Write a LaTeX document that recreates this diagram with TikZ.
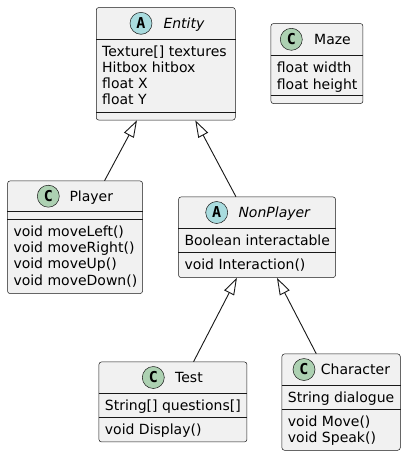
\documentclass[tikz,border=0pt]{standalone}
\usepackage{fontspec}
\setmainfont{DejaVu Sans}
\newfontfamily\iconfont{DejaVu Sans Mono}
\usetikzlibrary{arrows.meta}
\definecolor{umlborder}{HTML}{181818}
\definecolor{umlfill}{HTML}{F1F1F1}
\definecolor{abscirc}{HTML}{A9DCDF}
\definecolor{clscirc}{HTML}{ADD1B2}
\tikzset{
  classbox/.style={draw=umlborder, fill=umlfill, line width=0.5pt, rounded corners=2.5pt, inner sep=0pt, anchor=north west},
  sepline/.style={draw=umlborder, line width=0.5pt},
  icon/.style={circle, draw=umlborder, line width=0.5pt, minimum size=22pt, inner sep=0pt, font=\iconfont\bfseries\fontsize{15}{15}\selectfont},
  absicon/.style={icon, fill=abscirc},
  clsicon/.style={icon, fill=clscirc},
  cname/.style={anchor=base west, inner sep=0pt, font=\fontsize{14}{16}\selectfont},
  member/.style={anchor=base west, inner sep=0pt, font=\fontsize{14}{16}\selectfont},
  ext/.style={draw=umlborder, line width=0.9pt, -{Triangle[open, length=17pt, width=11pt]}}
}
\begin{document}
\begin{tikzpicture}[x=1pt, y=-1pt]
\useasboundingbox (0,0) rectangle (406,456);
\fill[white] (0,0) rectangle (406,456);

% Entity
\node[classbox, minimum width=139pt, minimum height=112.5pt] (entity) at (96,7.3) {};
\draw[sepline] (entity.west |- 0,39) -- (entity.east |- 0,39);
\draw[sepline] (entity.west |- 0,112) -- (entity.east |- 0,112);
\node[absicon] (entityicon) at (141,23.3) {A};
\node[cname] (entityname) at (163.3,28.3) {\itshape Entity};
\node[member] (e1) at (102,56) {Texture[] textures};
\node[member] (e2) at (102,72.3) {Hitbox hitbox};
\node[member] (e3) at (102,88.6) {float X};
\node[member] (e4) at (102,104.9) {float Y};

% Maze
\node[classbox, minimum width=92pt, minimum height=80pt] (maze) at (270.7,23.3) {};
\draw[sepline] (maze.west |- 0,55.7) -- (maze.east |- 0,55.7);
\draw[sepline] (maze.west |- 0,95) -- (maze.east |- 0,95);
\node[clsicon] (mazeicon) at (291.3,39.3) {C};
\node[cname] (mazename) at (314,44.3) {Maze};
\node[member] (m1) at (276.7,72.7) {float width};
\node[member] (m2) at (276.7,89) {float height};

% Player
\node[classbox, minimum width=135pt, minimum height=112.6pt] (player) at (7.3,180.7) {};
\draw[sepline] (player.west |- 0,211.7) -- (player.east |- 0,211.7);
\draw[sepline] (player.west |- 0,219.3) -- (player.east |- 0,219.3);
\node[clsicon] (playericon) at (48.3,196.2) {C};
\node[cname] (playername) at (69.3,201.2) {Player};
\node[member] (p1) at (13.3,236.3) {void moveLeft()};
\node[member] (p2) at (13.3,252.6) {void moveRight()};
\node[member] (p3) at (13.3,268.9) {void moveUp()};
\node[member] (p4) at (13.3,285.2) {void moveDown()};

% NonPlayer
\node[classbox, minimum width=157pt, minimum height=80.6pt] (nonplayer) at (178.3,196.7) {};
\draw[sepline] (nonplayer.west |- 0,228.7) -- (nonplayer.east |- 0,228.7);
\draw[sepline] (nonplayer.west |- 0,252.7) -- (nonplayer.east |- 0,252.7);
\node[absicon] (npicon) at (216.7,212.5) {A};
\node[cname] (npname) at (238.3,217.5) {\itshape NonPlayer};
\node[member] (n1) at (184.3,245.7) {Boolean interactable};
\node[member] (n2) at (184.3,269.7) {void Interaction()};

% Test
\node[classbox, minimum width=148pt, minimum height=80pt] (test) at (98.7,361.7) {};
\draw[sepline] (test.west |- 0,393.3) -- (test.east |- 0,393.3);
\draw[sepline] (test.west |- 0,417.3) -- (test.east |- 0,417.3);
\node[clsicon] (testicon) at (153.3,377.5) {C};
\node[cname] (testname) at (175,382.5) {Test};
\node[member] (t1) at (104.7,410.3) {String[] questions[]};
\node[member] (t2) at (104.7,434.3) {void Display()};

% Character
\node[classbox, minimum width=118.3pt, minimum height=96.3pt] (character) at (281.7,353.7) {};
\draw[sepline] (character.west |- 0,385.3) -- (character.east |- 0,385.3);
\draw[sepline] (character.west |- 0,409.3) -- (character.east |- 0,409.3);
\node[clsicon] (charicon) at (304,369.5) {C};
\node[cname] (charname) at (320.7,374.5) {Character};
\node[member] (c1) at (287.7,402.3) {String dialogue};
\node[member] (c2) at (287.7,426.3) {void Move()};
\node[member] (c3) at (287.7,442.6) {void Speak()};

% Inheritance
\draw[ext] ([xshift=29.5pt]player.north) -- ([xshift=-28.8pt]entity.south);
\draw[ext] ([xshift=-21.1pt]nonplayer.north) -- ([xshift=29.5pt]entity.south);
\draw[ext] ([xshift=20.6pt]test.north) -- ([xshift=-20.1pt]nonplayer.south);
\draw[ext] ([xshift=-24.85pt]character.north) -- ([xshift=19.9pt]nonplayer.south);
\end{tikzpicture}
\end{document}
